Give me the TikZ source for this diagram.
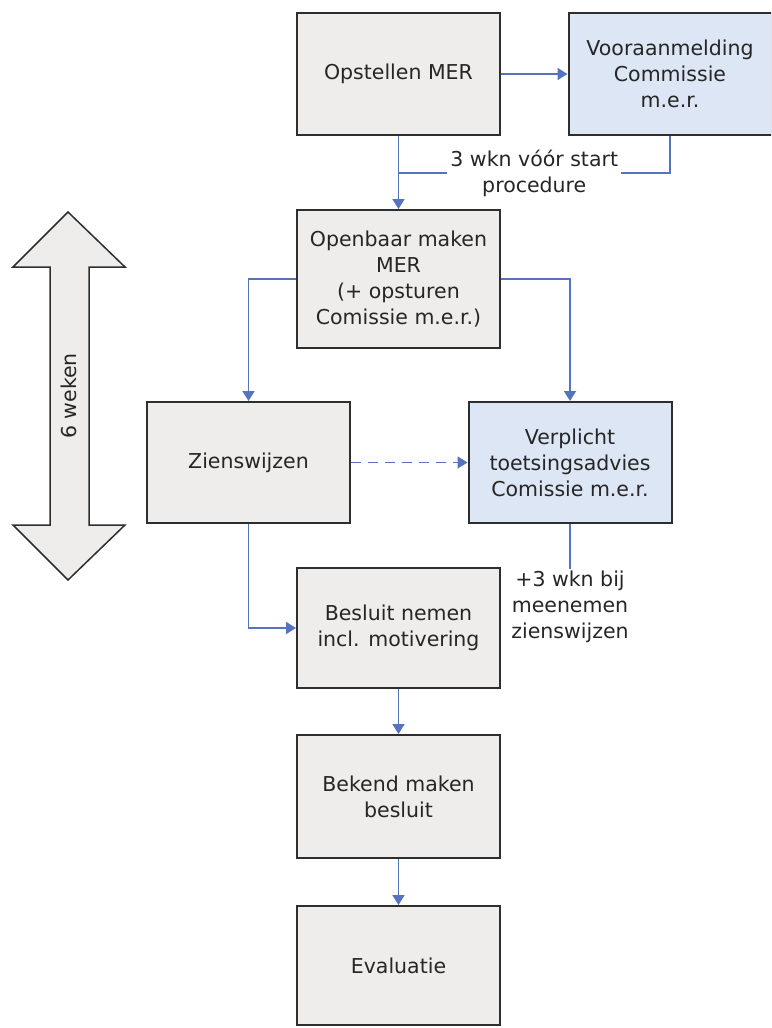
\documentclass[tikz,border=0pt]{standalone}
\usepackage{fontspec}
\setmainfont{DejaVu Sans}
\usetikzlibrary{arrows.meta}
\definecolor{stapgrijs}{HTML}{EEEDEC}
\definecolor{ciebl}{HTML}{DCE6F5}
\definecolor{pijlbl}{HTML}{5673C0}
\definecolor{rand}{HTML}{2E2E2E}
\begin{document}
\begin{tikzpicture}[x=1pt, y=-1pt, font=\fontsize{20.5}{26}\selectfont, text=black!85,
    stap/.style={draw=rand, line width=2pt, fill=stapgrijs, minimum width=203pt, align=center, inner sep=2pt},
    cie/.style={stap, fill=ciebl},
    pijl/.style={draw=pijlbl, line width=1.8pt, -{Triangle[length=10pt,width=12pt]}},
    lijn/.style={draw=pijlbl, line width=1.8pt}]
    \useasboundingbox (0,0) rectangle (771,1028);
    \clip (0,0) rectangle (771,1028);

    % stappen
    \node[stap, minimum height=122pt] (opstellen) at (398.5,74) {Opstellen MER};
    \node[cie, minimum height=122pt] (vooraan) at (670,74) {Vooraanmelding\\Commissie\\m.e.r.};
    \node[stap, minimum height=138pt] (openbaar) at (398.5,279) {Openbaar maken\\MER\\(+ opsturen\\Comissie m.e.r.)};
    \node[stap, minimum height=121pt] (zienswijzen) at (248.5,462.5) {Zienswijzen};
    \node[cie, minimum height=121pt] (verplicht) at (570,462.5) {Verplicht\\toetsingsadvies\\Comissie m.e.r.};
    \node[stap, minimum height=120pt] (besluit) at (398.5,628) {Besluit nemen\\incl. motivering};
    \node[stap, minimum height=123pt] (bekend) at (398.5,796.5) {Bekend maken\\besluit};
    \node[stap, minimum height=119pt] (evaluatie) at (398.5,965.5) {Evaluatie};

    % termijnen
    \coordinate (vhoek) at (670,173);
    \node[align=center, inner sep=2pt] (extra) at (570,607) {+3 wkn bij\\meenemen\\zienswijzen};

    % pijl 6 weken
    \draw[draw=rand, line width=1.5pt, fill=stapgrijs]
        (68,212) -- (125,267) -- (89,267) -- (89,525) -- (125,525) -- (68,580)
        -- (13,525) -- (50,525) -- (50,267) -- (13,267) -- cycle;
    \node[rotate=90] (weken) at (69,396) {6 weken};

    % verbindingen
    \draw[pijl] (opstellen) -- (vooraan);
    \draw[pijl] (opstellen) -- (openbaar);
    \draw[lijn] (vooraan.south) -- (vhoek)
        -- node[fill=white, align=center, inner sep=3pt] {3 wkn vóór start\\procedure} (vhoek -| opstellen.south);
    \draw[pijl] (openbaar.west) -| (zienswijzen.north);
    \draw[pijl] (openbaar.east) -| (verplicht.north);
    \draw[pijl, dashed, dash pattern=on 10pt off 7pt] (zienswijzen) -- (verplicht);
    \draw[pijl] (zienswijzen.south) |- (besluit.west);
    \draw[lijn] (verplicht.south) -- (extra.north);
    \draw[pijl] (besluit) -- (bekend);
    \draw[pijl] (bekend) -- (evaluatie);
\end{tikzpicture}
\end{document}
